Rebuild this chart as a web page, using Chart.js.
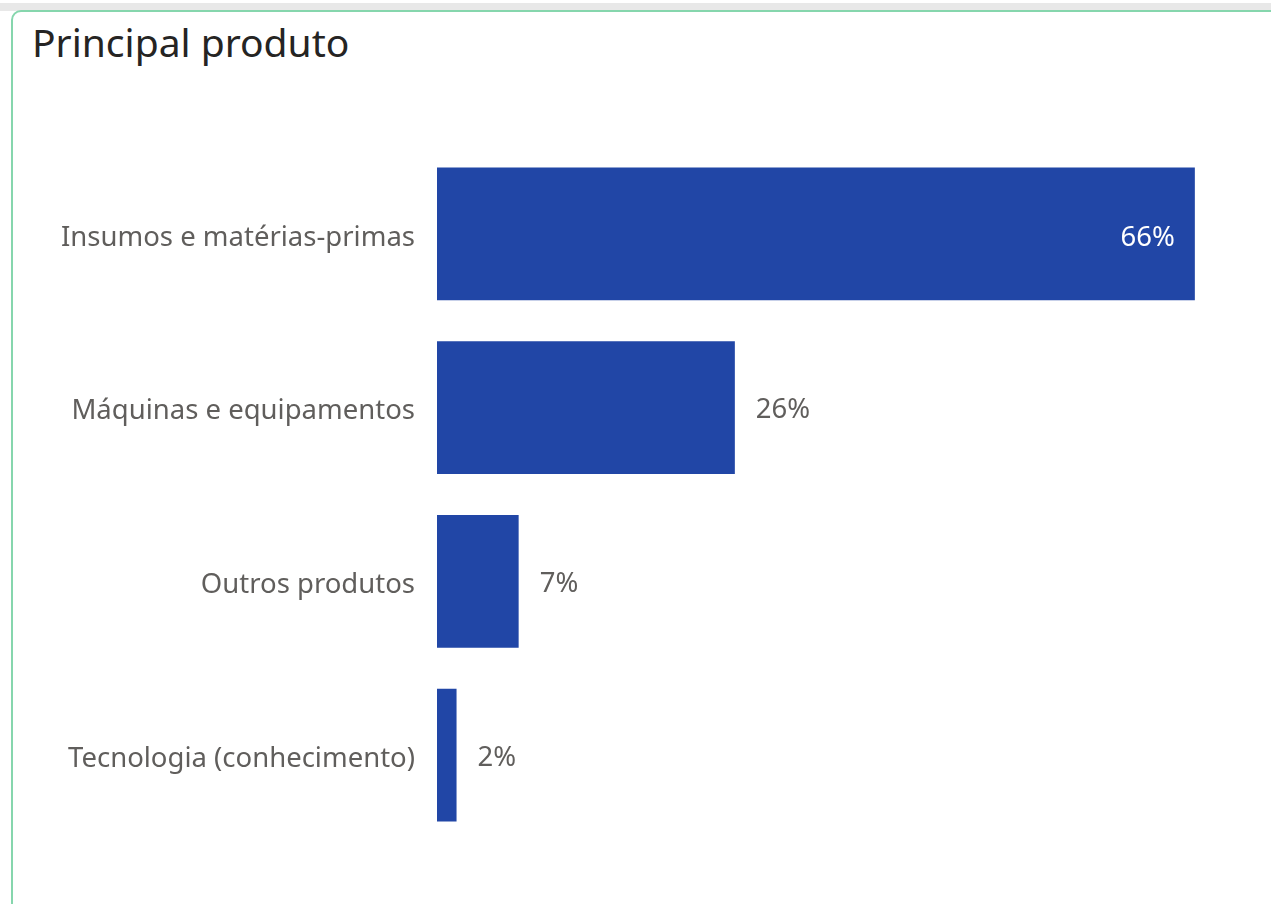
<!DOCTYPE html>
<html>
<head>
<meta charset="utf-8">
<script src="https://cdn.jsdelivr.net/npm/chart.js@4"></script>
<style>
  html, body { margin: 0; padding: 0; background: #fff; }
  body { width: 1271px; height: 904px; position: relative; overflow: hidden; }
  .strip { position: absolute; left: 0; top: 3px; width: 1271px; height: 8px; background: #e8e8e8; }
  .card {
    position: absolute; left: 11px; top: 10px; width: 1300px; height: 940px;
    border: 2px solid #86d6ad; border-radius: 10px; background: #fff;
  }
  .title {
    position: absolute; left: 32px; top: 15px;
    font-family: "Noto Sans", sans-serif; font-size: 39px; color: #252423;
  }
  #wrap { position: absolute; left: 0; top: 0; width: 1271px; height: 904px; }
</style>
</head>
<body>
<div class="strip"></div>
<div class="card"></div>
<div class="title">Principal produto</div>
<div id="wrap"><canvas id="produtoChart"></canvas></div>
<script>
// ================= PRINCIPAL PRODUTO =================
const categories = ["Insumos e matérias-primas", "Máquinas e equipamentos", "Outros produtos", "Tecnologia (conhecimento)"];
const shares = [65.9, 25.9, 7.1, 1.7];

const barLabels = {
    id: "barLabels",
    afterDatasetsDraw(chart) {
        const ctx = chart.ctx;
        const bars = chart.getDatasetMeta(0).data;
        ctx.save();
        ctx.font = "27.5px 'Noto Sans', sans-serif";
        ctx.textBaseline = "middle";
        bars.forEach((bar, i) => {
            const text = Math.round(shares[i]) + "%";
            if (bar.x - bar.base > 400) {
                ctx.fillStyle = "#ffffff";
                ctx.textAlign = "right";
                ctx.fillText(text, bar.x - 20, bar.y + 4);
            } else {
                ctx.fillStyle = "#605e5c";
                ctx.textAlign = "left";
                ctx.fillText(text, bar.x + 21, bar.y + 3);
            }
        });
        ctx.restore();
    }
};

new Chart(document.getElementById("produtoChart"), {
    type: "bar",
    data: {
        labels: categories,
        datasets: [{
            data: shares,
            backgroundColor: "#2146a6",
            categoryPercentage: 1,
            barPercentage: 0.765
        }]
    },
    options: {
        indexAxis: "y",
        responsive: true,
        maintainAspectRatio: false,
        animation: false,
        layout: { padding: { top: 147, bottom: 62, left: 0, right: 29 } },
        plugins: { legend: { display: false }, tooltip: { enabled: false } },
        scales: {
            x: { display: false, min: 0, max: 70 },
            y: {
                grid: { display: false, drawTicks: false },
                border: { display: false },
                ticks: {
                    padding: 22,
                    labelOffset: 4,
                    color: "#605e5c",
                    font: { family: "'Noto Sans', sans-serif", size: 27.5 }
                },
                afterFit(scale) { scale.width = 437; }
            }
        }
    },
    plugins: [barLabels]
});
</script>
</body>
</html>
